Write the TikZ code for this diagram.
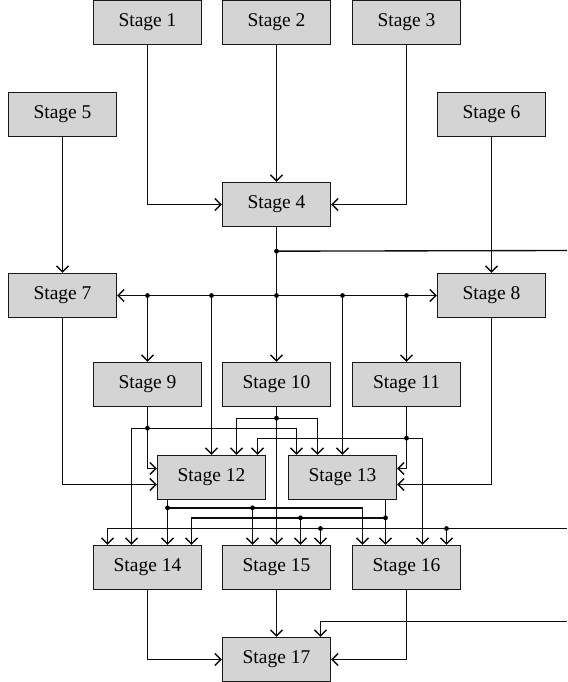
\documentclass[tikz,border=0pt]{standalone}
\usepackage{fontspec}
\setmainfont{Liberation Serif}
\usetikzlibrary{arrows.meta,calc}
\begin{document}
\begin{tikzpicture}[x=1pt,y=-1pt,
    stagebox/.style={draw=black!90,fill=black!17,line width=1.35pt,minimum width=108pt,minimum height=44pt,inner sep=0pt,font=\fontsize{19.5}{22}\selectfont},
    link/.style={line width=1.35pt,draw=black!95},
    arr/.style={link,-{Straight Barb[length=6pt,width=12pt]}}]
    \useasboundingbox (0,0) rectangle (567,682);
    \node[stagebox] (s1) at (147.5,22.5) {Stage 1};
    \node[stagebox] (s2) at (276.5,22.5) {Stage 2};
    \node[stagebox] (s3) at (406.5,22.5) {Stage 3};
    \node[stagebox] (s5) at (62.5,114.5) {Stage 5};
    \node[stagebox] (s6) at (491.5,114.5) {Stage 6};
    \node[stagebox] (s4) at (276.5,204.5) {Stage 4};
    \node[stagebox] (s7) at (62.5,295.5) {Stage 7};
    \node[stagebox] (s8) at (491.5,295.5) {Stage 8};
    \node[stagebox] (s9) at (147.5,384.5) {Stage 9};
    \node[stagebox] (s10) at (276.5,384.5) {Stage 10};
    \node[stagebox] (s11) at (406.5,384.5) {Stage 11};
    \node[stagebox] (s12) at (211.5,477.5) {Stage 12};
    \node[stagebox] (s13) at (342.5,477.5) {Stage 13};
    \node[stagebox] (s14) at (147.5,567.5) {Stage 14};
    \node[stagebox] (s15) at (276.5,567.5) {Stage 15};
    \node[stagebox] (s16) at (406.5,567.5) {Stage 16};
    \node[stagebox] (s17) at (276.5,659.5) {Stage 17};
    \coordinate (j4) at ($(s4.south)+(0,24)$);
    \coordinate (out4) at (567,250.5);
    \coordinate (bus) at (s4.south |- s7.east);
    \coordinate (b1) at (s9.north |- bus);
    \coordinate (b2) at (s12.north |- bus);
    \coordinate (b4) at (s13.north |- bus);
    \coordinate (b5) at (s11.north |- bus);
    \coordinate (t12b) at ($(s12.north)+(25,0)$);
    \coordinate (t12c) at ($(s12.north)+(46,0)$);
    \coordinate (t13a) at ($(s13.north)+(-46,0)$);
    \coordinate (t13b) at ($(s13.north)+(-25,0)$);
    \coordinate (l12a) at ($(s12.west)+(0,-9)$);
    \coordinate (l12b) at ($(s12.west)+(0,7)$);
    \coordinate (r13a) at ($(s13.east)+(0,-9)$);
    \coordinate (r13b) at ($(s13.east)+(0,7)$);
    \coordinate (t14a) at ($(s14.north)+(-40,0)$);
    \coordinate (t14b) at ($(s14.north)+(-16,0)$);
    \coordinate (t14c) at ($(s14.north)+(20,0)$);
    \coordinate (t14d) at ($(s14.north)+(44,0)$);
    \coordinate (t15a) at ($(s15.north)+(-24,0)$);
    \coordinate (t15c) at ($(s15.north)+(24,0)$);
    \coordinate (t15d) at ($(s15.north)+(44,0)$);
    \coordinate (t16a) at ($(s16.north)+(-44,0)$);
    \coordinate (t16b) at ($(s16.north)+(-21,0)$);
    \coordinate (t16c) at ($(s16.north)+(16,0)$);
    \coordinate (t16d) at ($(s16.north)+(40,0)$);
    \coordinate (d9) at ($(s9.south)+(0,21)$);
    \coordinate (d10) at ($(s10.south)+(0,11)$);
    \coordinate (d11) at ($(s11.south)+(0,31)$);
    \coordinate (d12) at ($(t14c)+(0,-37)$);
    \coordinate (d12b) at (t15a |- d12);
    \coordinate (d13) at ($(t16b)+(0,-27)$);
    \coordinate (d13b) at (t15c |- d13);
    \coordinate (in1) at (567,528.5);
    \coordinate (e1) at (t15d |- in1);
    \coordinate (e2) at (t16d |- in1);
    \coordinate (in2) at (567,621.5);
    \draw[arr] (s1.south) |- (s4.west);
    \draw[arr] (s2.south) -- (s4.north);
    \draw[arr] (s3.south) |- (s4.east);
    \draw[arr] (s5.south) -- (s7.north);
    \draw[arr] (s6.south) -- (s8.north);
    \draw[arr] (s4.south) -- (s10.north);
    \draw[link] (j4) -- (out4);
    \draw[arr] (bus) -- (s7.east);
    \draw[arr] (bus) -- (s8.west);
    \draw[arr] (b1) -- (s9.north);
    \draw[arr] (b2) -- (s12.north);
    \draw[arr] (b4) -- (s13.north);
    \draw[arr] (b5) -- (s11.north);
    \draw[arr] (s9.south) |- (l12a);
    \draw[arr] (d9) -| (t14b);
    \draw[arr] (d9) -| (t13a);
    \draw[arr] (s10.south) -- (s15.north);
    \draw[arr] (d10) -| (t12b);
    \draw[arr] (d10) -| (t13b);
    \draw[arr] (s11.south) |- (r13a);
    \draw[arr] (d11) -| (t12c);
    \draw[arr] (d11) -| (t16c);
    \draw[arr] (s7.south) |- (l12b);
    \draw[arr] (s8.south) |- (r13b);
    \draw[arr] (t14c |- s12.south) -- (t14c);
    \draw[arr] (d12) -| (t16a);
    \draw[arr] (d12b) -- (t15a);
    \draw[arr] (t16b |- s13.south) -- (t16b);
    \draw[arr] (d13) -| (t14d);
    \draw[arr] (d13b) -- (t15c);
    \draw[arr] (in1) -| (t14a);
    \draw[arr] (e1) -- (t15d);
    \draw[arr] (e2) -- (t16d);
    \draw[arr] (s14.south) |- (s17.west);
    \draw[arr] (s15.south) -- (s17.north);
    \draw[arr] (s16.south) |- (s17.east);
    \draw[arr] (in2) -| ($(s17.north)+(44,0)$);
    \foreach \p in {j4,bus,b1,b2,b4,b5,d9,d10,d11,d12,d12b,d13,d13b,e1,e2}
        \fill[black] (\p) circle (2.4pt);
\end{tikzpicture}
\end{document}
